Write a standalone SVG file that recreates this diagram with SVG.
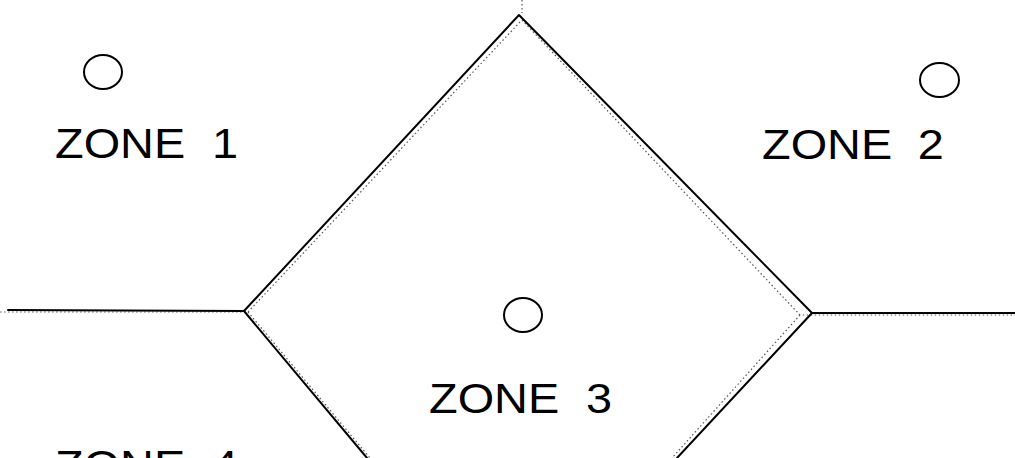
<svg xmlns="http://www.w3.org/2000/svg" width="1015" height="458" viewBox="0 0 1015 458">
<style>
.edge{fill:none;stroke:#000;stroke-width:2;stroke-linecap:round;stroke-linejoin:round}
.dot{fill:none;stroke:#555;stroke-width:1.2;stroke-dasharray:1.5 2.5}
.site{fill:none;stroke:#000;stroke-width:2}
.lbl{font-family:"Liberation Sans",Arial,sans-serif;font-size:43px;fill:#000}
</style>
<rect width="1015" height="458" fill="#fff"/>
<g id="connectors">
<path class="dot" d="M522,0 L522,13"/>
<path class="dot" d="M520,22 L248,312 L0,312"/>
<path class="dot" d="M248,312 L370,458"/>
<path class="dot" d="M522,20 L800,315 L1015,315"/>
<path class="dot" d="M800,315 L672,458"/>
<path class="edge" d="M8,310 L244,311 L519,15 L812,313 L1015,313"/>
<path class="edge" d="M244,311 L367,458"/>
<path class="edge" d="M812,313 L677,458"/>
</g>
<g id="zone1">
<ellipse class="site" cx="103" cy="72" rx="19" ry="17"/>
<text class="lbl" transform="translate(55,158) scale(1.09,1)">ZONE<tspan x="144">1</tspan></text>
</g>
<g id="zone2">
<ellipse class="site" cx="939.5" cy="80" rx="19.5" ry="17"/>
<text class="lbl" transform="translate(762,159) scale(1.09,1)">ZONE<tspan x="143">2</tspan></text>
</g>
<g id="zone3">
<ellipse class="site" cx="523" cy="315" rx="19" ry="17"/>
<text class="lbl" transform="translate(429,413) scale(1.09,1)">ZONE<tspan x="144">3</tspan></text>
</g>
<g id="zone4">
<text class="lbl" transform="translate(55,480) scale(1.09,1)">ZONE<tspan x="144">4</tspan></text>
</g>
</svg>
